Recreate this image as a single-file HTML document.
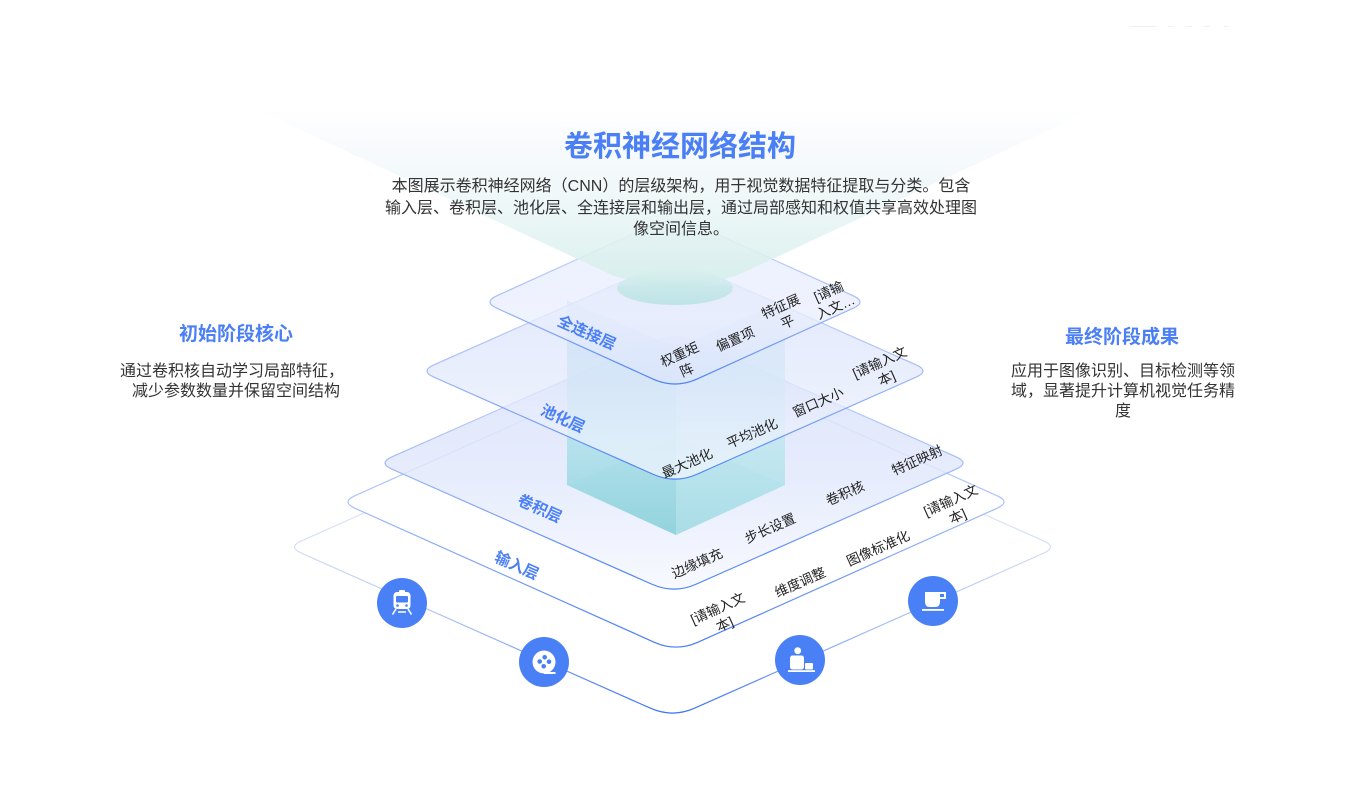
<!DOCTYPE html>
<html><head><meta charset="utf-8"><style>
html,body{margin:0;padding:0;background:#fff;}
body{width:1356px;height:796px;overflow:hidden;font-family:"Liberation Sans","Noto Sans CJK SC",sans-serif;}
svg{display:block;}
text{font-family:"Liberation Sans","Noto Sans CJK SC",sans-serif;}
.it{font-size:13.5px;fill:#222;}
.ln{font-size:15.5px;font-weight:bold;fill:#4a7ff5;}
</style></head><body>
<svg width="1356" height="796" viewBox="0 0 1356 796" xmlns="http://www.w3.org/2000/svg">
<defs>
 <linearGradient id="sIn" x1="0" y1="0" x2="0" y2="1">
  <stop offset="0" stop-color="#f0f3fa"/><stop offset="0.5" stop-color="#d6dff3"/>
  <stop offset="0.75" stop-color="#a3bcf3"/><stop offset="1" stop-color="#3b72f2"/>
 </linearGradient>
 <linearGradient id="sL2" x1="0" y1="0" x2="0" y2="1">
  <stop offset="0" stop-color="#dfe7fa"/><stop offset="0.5" stop-color="#a9c1f6"/>
  <stop offset="1" stop-color="#4379f4"/>
 </linearGradient>
 <linearGradient id="sF" x1="0" y1="0" x2="0" y2="1">
  <stop offset="0" stop-color="#d4def9"/><stop offset="0.5" stop-color="#a3bcf6"/>
  <stop offset="1" stop-color="#4a80f5"/>
 </linearGradient>
 <linearGradient id="fL" x1="0" y1="0" x2="0" y2="1">
  <stop offset="0" stop-color="#d6e0fb"/><stop offset="0.55" stop-color="#e1e8fc"/>
  <stop offset="1" stop-color="#f6f8ff"/>
 </linearGradient>
 <linearGradient id="fFC" x1="0" y1="0" x2="0" y2="1">
  <stop offset="0" stop-color="#e6ecfd"/><stop offset="0.6" stop-color="#e9eefd"/>
  <stop offset="1" stop-color="#dbe5fc"/>
 </linearGradient>
 <linearGradient id="boxL" x1="0" y1="0" x2="0" y2="1">
  <stop offset="0" stop-color="#b9e2f0" stop-opacity="0.8"/>
  <stop offset="0.6" stop-color="#ace0ea" stop-opacity="0.82"/>
  <stop offset="1" stop-color="#8dd1db" stop-opacity="0.92"/>
 </linearGradient>
 <linearGradient id="boxR" x1="0" y1="0" x2="0" y2="1">
  <stop offset="0" stop-color="#c2e6f2" stop-opacity="0.75"/>
  <stop offset="0.6" stop-color="#bce6ee" stop-opacity="0.78"/>
  <stop offset="1" stop-color="#a4dce5" stop-opacity="0.88"/>
 </linearGradient>
 <linearGradient id="beam" gradientUnits="userSpaceOnUse" x1="0" y1="108" x2="0" y2="290">
  <stop offset="0" stop-color="#f3f7fc" stop-opacity="0"/>
  <stop offset="0.2" stop-color="#f1f6fb" stop-opacity="0.5"/>
  <stop offset="0.55" stop-color="#e8f5f5" stop-opacity="0.8"/>
  <stop offset="1" stop-color="#d3eeea" stop-opacity="0.9"/>
 </linearGradient>
 <linearGradient id="ell" x1="0" y1="0" x2="0" y2="1">
  <stop offset="0" stop-color="#cdebea" stop-opacity="0"/>
  <stop offset="0.45" stop-color="#c5e8e8" stop-opacity="0.85"/>
  <stop offset="1" stop-color="#bee4e6" stop-opacity="1"/>
 </linearGradient>
</defs>

<!-- faint marks top-right -->
<g fill="#f0f0f0">
 <rect x="1130" y="26" width="26" height="1"/><rect x="1168" y="26" width="5" height="1"/>
 <rect x="1186" y="26" width="6" height="1"/><rect x="1204" y="26" width="6" height="1"/>
 <rect x="1224" y="26" width="4" height="1"/>
</g>

<!-- Input (outermost) layer -->
<path d="M 301.5 540.78 L 650.5 385.77 Q 672.5 376 694.5 385.77 L 1043.5 540.78 Q 1057.5 547 1043.5 553.22 L 694.5 708.23 Q 672.5 718 650.5 708.23 L 301.5 553.22 Q 287.5 547 301.5 540.78 Z" fill="#fff" stroke="url(#sIn)" stroke-width="1.2"/>

<!-- Layer 2 (输入层) -->
<path d="M 355 495.73 L 654 361.85 Q 676 352 698 361.85 L 997 495.73 Q 1011 502 997 508.27 L 698 642.15 Q 676 652 654 642.15 L 355 508.27 Q 341 502 355 495.73 Z" fill="#fff" stroke="url(#sL2)" stroke-width="1.2"/>

<!-- Conv layer -->
<path d="M 392 456.8 L 652 341.74 Q 674 332 696 341.74 L 956 456.8 Q 970 463 956 469.2 L 696 584.26 Q 674 594 652 584.26 L 392 469.2 Q 378 463 392 456.8 Z" fill="url(#fL)" fill-opacity="0.82" stroke="url(#sF)" stroke-width="1.2"/>

<!-- Box -->
<polygon points="567,485 676,437 785,485 676,535" fill="#8fd0da" fill-opacity="0.35"/>
<polygon points="567,300 676,348 676,535 567,485" fill="url(#boxL)"/>
<polygon points="676,348 785,300 785,485 676,535" fill="url(#boxR)"/>

<!-- Pool layer -->
<path d="M 434 364.8 L 653 267.75 Q 675 258 697 267.75 L 916 364.8 Q 930 371 916 377.2 L 697 474.25 Q 675 484 653 474.25 L 434 377.2 Q 420 371 434 364.8 Z" fill="url(#fL)" fill-opacity="0.7" stroke="url(#sF)" stroke-width="1.2"/>

<!-- FC layer -->
<path d="M 497 295.66 L 653 224.97 Q 675 215 697 224.97 L 853 295.66 Q 867 302 853 308.34 L 697 379.03 Q 675 389 653 379.03 L 497 308.34 Q 483 302 497 295.66 Z" fill="url(#fFC)" fill-opacity="0.72" stroke="url(#sF)" stroke-width="1.2"/>

<!-- Beam -->
<polygon points="258,110 1092,110 736,276 675,292 614,276" fill="url(#beam)"/>
<ellipse cx="675" cy="288" rx="58" ry="17" fill="url(#ell)"/>

<!-- Title & description -->
<text x="680" y="156" text-anchor="middle" font-size="29" font-weight="bold" fill="#4a7ff5">卷积神经网络结构</text>
<g font-size="16" fill="#333" text-anchor="middle">
 <text x="681" y="191">本图展示卷积神经网络（CNN）的层级架构，用于视觉数据特征提取与分类。包含</text>
 <text x="681" y="213">输入层、卷积层、池化层、全连接层和输出层，通过局部感知和权值共享高效处理图</text>
 <text x="681" y="234">像空间信息。</text>
</g>

<!-- Side texts -->
<text x="236" y="340" text-anchor="middle" font-size="19" font-weight="bold" fill="#4a7ff5">初始阶段核心</text>
<g font-size="16" fill="#333" text-anchor="middle">
 <text x="232" y="376">通过卷积核自动学习局部特征，</text>
 <text x="236" y="396">减少参数数量并保留空间结构</text>
</g>
<text x="1122" y="343" text-anchor="middle" font-size="19" font-weight="bold" fill="#4a7ff5">最终阶段成果</text>
<g font-size="16" fill="#333" text-anchor="middle">
 <text x="1123" y="376">应用于图像识别、目标检测等领</text>
 <text x="1123" y="396">域，显著提升计算机视觉任务精</text>
 <text x="1123" y="416">度</text>
</g>

<!-- Layer names -->
<g text-anchor="middle">
 <text class="ln" transform="translate(587,332) rotate(24)" y="6">全连接层</text>
 <text class="ln" transform="translate(563,418) rotate(24)" y="6">池化层</text>
 <text class="ln" transform="translate(540,508) rotate(24)" y="6">卷积层</text>
 <text class="ln" transform="translate(517,565) rotate(24)" y="6">输入层</text>
</g>

<!-- Items -->
<g text-anchor="middle">
 <text class="it" transform="translate(683,362) rotate(-24)"><tspan x="0" y="-3.5">权重矩</tspan><tspan x="0" y="13.5">阵</tspan></text>
 <text class="it" transform="translate(735,339) rotate(-24)" y="5">偏置项</text>
 <text class="it" transform="translate(784,314) rotate(-24)"><tspan x="0" y="-3.5">特征展</tspan><tspan x="0" y="13.5">平</tspan></text>
 <text class="it" transform="translate(832,299) rotate(-24)"><tspan x="0" y="-3.5">[请输</tspan><tspan x="0" y="13.5">入文…</tspan></text>
 <text class="it" transform="translate(687,463) rotate(-24)" y="5">最大池化</text>
 <text class="it" transform="translate(752,433) rotate(-24)" y="5">平均池化</text>
 <text class="it" transform="translate(818,402) rotate(-24)" y="5">窗口大小</text>
 <text class="it" transform="translate(883,370) rotate(-24)"><tspan x="0" y="-3.5">[请输入文</tspan><tspan x="0" y="13.5">本]</tspan></text>
 <text class="it" transform="translate(697,563) rotate(-24)" y="5">边缘填充</text>
 <text class="it" transform="translate(770,528) rotate(-24)" y="5">步长设置</text>
 <text class="it" transform="translate(845,493) rotate(-24)" y="5">卷积核</text>
 <text class="it" transform="translate(917,460) rotate(-24)" y="5">特征映射</text>
 <text class="it" transform="translate(721,616) rotate(-24)"><tspan x="0" y="-3.5">[请输入文</tspan><tspan x="0" y="13.5">本]</tspan></text>
 <text class="it" transform="translate(800,582) rotate(-24)" y="5">维度调整</text>
 <text class="it" transform="translate(878,548) rotate(-24)" y="5">图像标准化</text>
 <text class="it" transform="translate(954,508) rotate(-24)"><tspan x="0" y="-3.5">[请输入文</tspan><tspan x="0" y="13.5">本]</tspan></text>
</g>

<!-- Icons -->
<g fill="#4a80f6">
 <circle cx="402" cy="603" r="25"/>
 <circle cx="544" cy="662" r="25"/>
 <circle cx="800" cy="660" r="25"/>
 <circle cx="933" cy="601" r="25"/>
</g>
<g transform="translate(402,603)">
 <rect x="-3" y="-13" width="6" height="3" rx="1" fill="#fff"/>
 <rect x="-8.5" y="-11" width="17" height="17" rx="3.5" fill="#fff"/>
 <rect x="-6" y="-7" width="12" height="6.5" rx="1" fill="#4a80f6"/>
 <circle cx="-4.5" cy="2.5" r="1.3" fill="#4a80f6"/>
 <circle cx="4.5" cy="2.5" r="1.3" fill="#4a80f6"/>
 <path d="M-6 6 L-9.5 11.5 M6 6 L9.5 11.5 M-4 9 H4" stroke="#fff" stroke-width="1.6" fill="none"/>
</g>
<g transform="translate(544,662)">
 <circle cx="0" cy="0" r="11.5" fill="#fff"/>
 <path d="M0 11 H11.5" stroke="#fff" stroke-width="2"/>
 <circle cx="-4.3" cy="-0.5" r="2.3" fill="#4a80f6"/>
 <circle cx="0.7" cy="-4.7" r="2.3" fill="#4a80f6"/>
 <circle cx="5" cy="-0.3" r="2.3" fill="#4a80f6"/>
 <circle cx="-0.3" cy="4.3" r="2.3" fill="#4a80f6"/>
</g>
<g transform="translate(800,660)" fill="#fff">
 <circle cx="-2.3" cy="-9.3" r="3.4"/>
 <rect x="-10" y="-4.5" width="14" height="14" rx="2.5"/>
 <rect x="5" y="3" width="8" height="6.5" rx="1"/>
 <rect x="-12" y="10.2" width="27" height="1.8"/>
</g>
<g transform="translate(933,601)" fill="#fff">
 <path d="M-8 -9 H7 V1 Q7 6 2 6 H-3 Q-8 6 -8 1 Z"/>
 <path d="M7 -8 H12 V-3 H7" fill="none" stroke="#fff" stroke-width="2"/>
 <rect x="-11" y="8" width="22" height="1.8"/>
</g>
</svg>
</body></html>
